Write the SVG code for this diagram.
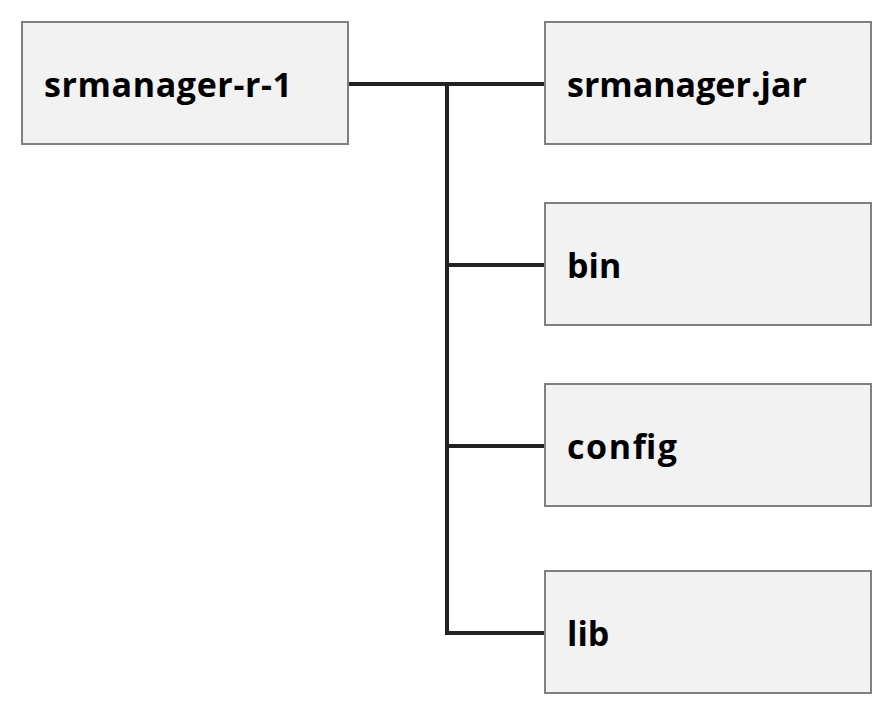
<svg xmlns="http://www.w3.org/2000/svg" width="893" height="718" viewBox="0 0 893 718">
<style>
.box{fill:#f2f2f2;stroke:#808080;stroke-width:2}
.lbl{font-family:"Open Sans","Noto Sans","Liberation Sans",sans-serif;font-weight:bold;font-size:34px;fill:#000}
.conn{fill:none;stroke:#222;stroke-width:4}
</style>
<rect width="893" height="718" fill="#fff"/>
<g id="connectors">
<path class="conn" d="M348 84 H545"/>
<path class="conn" d="M447 84 V633 H545"/>
<path class="conn" d="M447 265 H545"/>
<path class="conn" d="M447 446 H545"/>
</g>
<g id="root"><rect class="box" x="22" y="22" width="326" height="122"/><text class="lbl" x="44" y="97" textLength="248" lengthAdjust="spacing">srmanager-r-1</text></g>
<g id="jar"><rect class="box" x="545" y="22" width="326" height="122"/><text class="lbl" x="567" y="97">srmanager.jar</text></g>
<g id="bin"><rect class="box" x="545" y="203" width="326" height="122"/><text class="lbl" x="567" y="278">bin</text></g>
<g id="config"><rect class="box" x="545" y="384" width="326" height="122"/><text class="lbl" x="567" y="459" textLength="110" lengthAdjust="spacing">config</text></g>
<g id="lib"><rect class="box" x="545" y="571" width="326" height="122"/><text class="lbl" x="567" y="646">lib</text></g>
</svg>
